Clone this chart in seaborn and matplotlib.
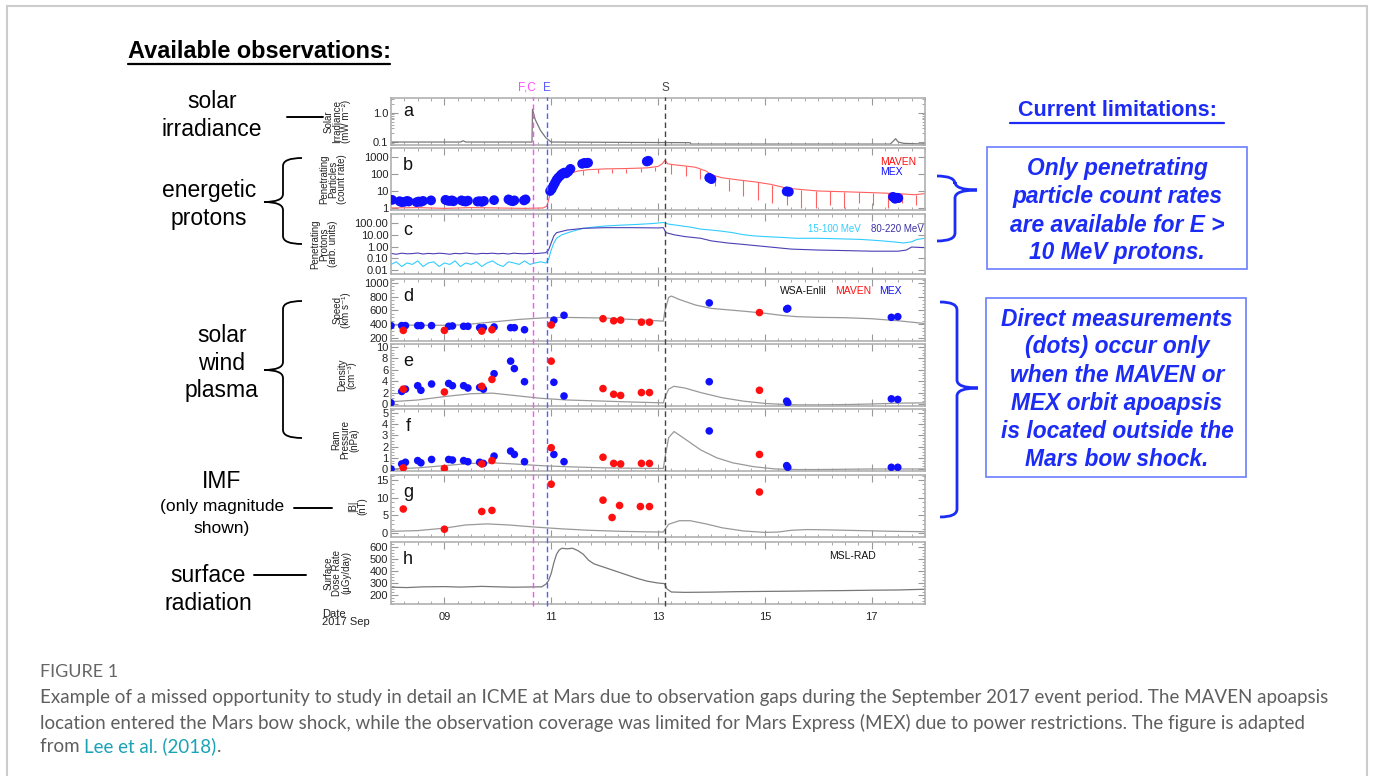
import matplotlib
matplotlib.use('Agg')
import matplotlib.pyplot as plt
import seaborn as sns
from matplotlib import transforms
from matplotlib.lines import Line2D
from matplotlib.patches import PathPatch, Rectangle
from matplotlib.path import Path
from matplotlib.text import Annotation
from matplotlib.ticker import MultipleLocator, AutoMinorLocator

# ---------------- data (time in days of September 2017) ----------------
event_labels = ['F,C', 'E', 'S']
event_times = [10.65, 10.92, 13.13]
event_colors = ['#ff4dff', '#5a5aff', '#444444']

# a: solar irradiance
irr_t = [8.0, 9.3, 9.35, 9.4, 10.64, 10.65, 10.7, 10.8, 10.9, 11.0, 13.6, 13.62, 17.35, 17.45, 17.5, 17.6, 18.0]
irr_v = [0.10, 0.10, 0.11, 0.10, 0.10, 1.35, 0.6, 0.25, 0.14, 0.10, 0.095, 0.085, 0.085, 0.13, 0.10, 0.09, 0.085]

# b: penetrating particles (MAVEN line, MEX dots)
maven_b_t = [8.0, 8.5, 9.0, 9.5, 10.0, 10.5, 10.85, 10.92, 10.97, 11.02, 11.1, 11.2, 11.3, 11.4, 11.5, 11.7,
             12.0, 12.4, 12.8, 13.0, 13.08, 13.13, 13.18, 13.3, 13.5, 13.7, 13.9, 14.0, 14.2, 14.5, 14.8,
             15.1, 15.4, 15.7, 16.0, 16.5, 17.0, 17.5, 17.8, 18.0]
maven_b_v = [1.0, 1.05, 0.95, 1.05, 1.0, 0.95, 1.0, 1.3, 5, 20, 40, 60, 80, 120, 150, 180,
             200, 210, 230, 280, 400, 650, 400, 350, 300, 250, 150, 90, 60, 45, 35,
             25, 15, 12, 10, 9, 8, 7, 6, 7]
dip_t = [11.6, 11.87, 12.14, 12.41, 12.68, 12.95, 13.25, 13.52, 13.79, 14.06, 14.33, 14.6, 14.87, 15.14,
         15.41, 15.68, 15.95, 16.22, 16.49, 16.76, 17.03, 17.3, 17.57, 17.84]
dip_top = [165, 190, 203, 210, 220, 260, 370, 295, 200, 80, 52, 42, 33, 24,
           15, 12, 10, 10, 9, 9, 8, 7.5, 7, 6]
dip_low = [90, 110, 120, 120, 130, 150, 100, 80, 50, 20, 10, 5, 3, 2,
           1.5, 1, 1, 1.5, 1, 2, 1.5, 1, 2, 1.5]
mex_b_t = [8.02, 8.16, 8.2, 8.25, 8.3, 8.33, 8.48, 8.52, 8.56, 8.6, 8.75, 9.02, 9.06, 9.1, 9.14, 9.17,
           9.32, 9.36, 9.4, 9.44, 9.62, 9.66, 9.7, 9.74, 9.93, 10.2, 10.24, 10.28, 10.31, 10.49, 10.52,
           10.98, 11.01, 11.04, 11.07, 11.1, 11.13, 11.17, 11.2, 11.24, 11.28, 11.32, 11.36,
           11.58, 11.62, 11.66, 11.69, 12.79, 12.82, 13.96, 14.0, 15.41, 15.45, 17.4, 17.44, 17.48, 17.5]
mex_b_v = [3.0, 2.5, 2.2, 2.3, 2.6, 2.4, 2.2, 2.4, 2.3, 2.6, 2.8, 3.0, 2.7, 2.6, 2.8, 2.5,
           2.8, 2.5, 2.4, 2.7, 2.4, 2.5, 2.3, 2.6, 2.9, 3.2, 2.7, 2.5, 2.8, 2.8, 3.2,
           10, 13, 20, 30, 45, 60, 80, 100, 120, 110, 140, 200,
           400, 450, 430, 460, 550, 600, 60, 50, 9.5, 9, 4.5, 3.5, 4, 3.8]

# c: penetrating protons, two energy channels
c_t = [8.0, 8.1, 8.2, 8.3, 8.4, 8.5, 8.6, 8.7, 8.8, 8.9, 9.0, 9.1, 9.2, 9.3, 9.4, 9.5, 9.6, 9.7, 9.8, 9.9,
       10.0, 10.1, 10.2, 10.3, 10.4, 10.5, 10.6, 10.7, 10.8, 10.9]
low_pre = [.03, .05, .02, .04, .03, .06, .02, .04, .05, .02, .04, .03, .06, .02, .04, .03, .05, .02, .04, .06,
           .03, .02, .05, .04, .03, .06, .03, .04, .05, .04]
high_pre = [.26, .22, .27, .24, .25, .28, .23, .26, .24, .27, .25, .22, .26, .24, .28, .25, .23, .26, .25, .27,
            .24, .26, .23, .27, .25, .24, .26, .25, .27, .3]
low_t = [10.95, 11.0, 11.05, 11.1, 11.2, 11.4, 11.6, 11.8, 12.0, 12.3, 12.6, 12.9, 13.1, 13.2, 13.4, 13.6,
         13.8, 14.0, 14.2, 14.4, 14.6, 14.8, 15.0, 15.3, 15.6, 16.0, 16.4, 16.8, 17.0, 17.2, 17.4, 17.6,
         17.75, 17.85, 18.0]
low_v = [0.08, 0.5, 2, 5, 10, 20, 35, 45, 55, 65, 75, 90, 110, 80, 60, 45,
         30, 25, 20, 15, 10, 8, 7, 6, 5, 5, 4.5, 4, 3.5, 3, 2.5, 2,
         2.5, 4, 5]
high_t = [10.95, 11.0, 11.05, 11.1, 11.3, 11.6, 12.0, 12.5, 13.0, 13.1, 13.15, 13.3, 13.5, 13.8, 14.0, 14.3,
          14.6, 15.0, 15.5, 16.0, 16.5, 17.0, 17.5, 17.65, 17.75, 18.0]
high_v = [0.5, 2, 8, 15, 25, 35, 40, 40, 38, 40, 15, 10, 7, 5, 3, 2,
          1.5, 1, 0.6, 0.5, 0.45, 0.4, 0.4, 0.5, 0.9, 0.8]

# d-g: WSA-Enlil model lines
enlil_v_t = [8.0, 8.5, 9.0, 9.3, 9.6, 10.0, 10.4, 10.8, 11.2, 11.6, 12.0, 12.5, 13.0, 13.1, 13.13, 13.2, 13.25,
             13.4, 13.7, 14.0, 14.3, 14.6, 15.0, 15.3, 15.6, 16.0, 16.5, 17.0, 17.5, 18.0]
enlil_v = [390, 385, 385, 390, 410, 440, 470, 490, 500, 495, 490, 470, 450, 445, 600, 790, 810,
           760, 680, 630, 610, 590, 560, 530, 510, 500, 495, 480, 450, 410]
enlil_n_t = [8.0, 8.5, 9.0, 9.5, 9.9, 10.3, 10.8, 11.3, 12.0, 12.5, 13.1, 13.13, 13.2, 13.3, 13.5, 13.8,
             14.2, 14.6, 15.0, 15.3, 15.6, 16.0, 16.5, 17.0, 17.5, 18.0]
enlil_n = [0.4, 0.7, 1.3, 1.8, 1.9, 1.5, 1.0, 0.7, 0.5, 0.35, 0.2, 1.2, 2.6, 3.1, 2.8, 2.0,
           1.1, 0.5, 0.1, -0.05, -0.15, -0.15, -0.1, 0.0, 0.15, 0.2]
enlil_p_t = [8.0, 8.5, 9.0, 9.5, 9.9, 10.3, 10.8, 11.3, 12.0, 12.5, 13.1, 13.13, 13.2, 13.3, 13.5, 13.8,
             14.1, 14.4, 14.8, 15.2, 15.6, 16.0, 17.0, 18.0]
enlil_p = [0.0, 0.1, 0.3, 0.5, 0.55, 0.45, 0.3, 0.2, 0.1, 0.07, 0.05, 1.0, 2.8, 3.35, 2.7, 1.7,
           1.0, 0.55, 0.2, 0.0, -0.05, -0.05, 0.0, 0.0]
enlil_b_t = [8.0, 8.5, 9.0, 9.4, 9.8, 10.2, 10.7, 11.2, 11.7, 12.3, 12.8, 13.1, 13.13, 13.2, 13.4, 13.6,
             13.9, 14.2, 14.6, 15.0, 15.25, 15.5, 15.8, 16.2, 16.8, 17.4, 18.0]
enlil_b = [0.5, 0.7, 1.4, 2.3, 2.6, 2.3, 1.7, 1.2, 0.8, 0.5, 0.35, 0.3, 1.0, 2.5, 3.5, 3.5,
           2.6, 1.5, 0.6, 0.2, 0.3, 0.8, 1.0, 0.9, 0.7, 0.5, 0.4]

# d-g: spacecraft measurements
mex_t = [8.0, 8.2, 8.27, 8.5, 8.56, 8.76, 9.08, 9.15, 9.36, 9.44, 9.66, 9.73, 9.93, 10.24, 10.31, 10.5,
         11.05, 11.24, 13.96, 15.41, 15.43, 17.37, 17.49]
mex_speed = [380, 380, 380, 380, 380, 380, 370, 375, 370, 370, 350, 350, 360, 350, 350, 320,
             460, 530, 710, 620, 630, 500, 510]
mex_dens = [0.2, 2.2, 2.6, 3.2, 2.4, 3.5, 3.6, 3.2, 3.2, 2.8, 2.9, 2.6, 5.3, 7.5, 6.2, 3.9,
            3.8, 1.4, 3.9, 0.5, 0.2, 0.9, 0.8]
mex_pram = [0.0, 0.45, 0.6, 0.75, 0.55, 0.85, 0.85, 0.8, 0.75, 0.65, 0.6, 0.5, 1.15, 1.6, 1.3, 0.65,
            1.3, 0.65, 3.4, 0.3, 0.15, 0.15, 0.15]
maven_t = [8.23, 9.0, 9.7, 9.89, 11.0, 11.97, 12.17, 12.3, 12.69, 12.84, 14.9]
maven_speed = [310, 310, 300, 320, 390, 480, 450, 460, 430, 430, 570]
maven_dens = [2.6, 2.1, 3.1, 4.3, 7.5, 2.7, 1.7, 1.5, 2.0, 2.0, 2.4]
maven_pram = [0.1, 0.05, 0.45, 0.75, 1.9, 1.05, 0.5, 0.45, 0.5, 0.5, 1.3]
maven_bt = [8.23, 9.0, 9.7, 9.89, 11.0, 11.97, 12.14, 12.28, 12.67, 12.84, 14.9]
maven_b = [6.8, 1.1, 6.1, 6.4, 13.8, 9.3, 4.4, 7.8, 7.5, 7.5, 11.6]

# h: MSL-RAD surface dose rate
dose_t = [8.0, 8.3, 8.6, 9.0, 9.3, 9.7, 10.0, 10.3, 10.6, 10.82, 10.9, 10.95, 11.0, 11.05, 11.1, 11.15, 11.2,
          11.3, 11.4, 11.5, 11.6, 11.7, 11.8, 12.0, 12.2, 12.4, 12.6, 12.8, 13.0, 13.12, 13.17, 13.25,
          13.5, 14.0, 14.5, 15.0, 15.5, 16.0, 16.5, 17.0, 17.5, 18.0]
dose_v = [265, 262, 268, 270, 266, 272, 268, 265, 267, 268, 290, 320, 380, 470, 540, 575, 590,
          585, 590, 570, 540, 490, 460, 430, 400, 370, 340, 315, 300, 295, 250, 225,
          222, 224, 228, 230, 232, 235, 237, 240, 242, 248]

x_ticks = [9, 11, 13, 15, 17]
x_tick_labels = ['09', '11', '13', '15', '17']

# ---------------- figure ----------------
sns.set_style('ticks')
plt.rcParams['font.family'] = ['Liberation Sans', 'DejaVu Sans']

W, H = 1373, 776
fig = plt.figure(figsize=(W / 100, H / 100), dpi=100)


def fx(x):
    return x / W


def fy(y):
    return 1 - y / H


# panel vertical extents in pixels (top, bottom)
panel_px = [(98, 145), (148, 210), (214, 274), (279, 341), (344, 406), (409, 471), (475, 537), (542, 604)]
left_px, right_px = 391, 925
axes = []
for top, bot in panel_px:
    axes.append(fig.add_axes([fx(left_px), fy(bot), (right_px - left_px) / W, (bot - top) / H]))
ax_a, ax_b, ax_c, ax_d, ax_e, ax_f, ax_g, ax_h = axes

RED, BLUE, GRAY = '#ff1010', '#1010ff', '#999999'

# a
sns.lineplot(x=irr_t, y=irr_v, ax=ax_a, color='#777777', lw=0.9, estimator=None)
ax_a.set_yscale('log')
ax_a.set_ylim(0.079, 3.3)
ax_a.set_yticks([0.1, 1.0])
ax_a.set_yticklabels(['0.1', '1.0'])

# b
sns.lineplot(x=maven_b_t, y=maven_b_v, ax=ax_b, color='#ff6060', lw=0.8, estimator=None)
ax_b.vlines(dip_t, dip_low, dip_top, color='#ff6060', lw=0.8)
sns.scatterplot(x=mex_b_t, y=mex_b_v, ax=ax_b, color=BLUE, s=50, edgecolor='none', zorder=5)
ax_b.set_yscale('log')
ax_b.set_ylim(0.76, 3400)
ax_b.set_yticks([1, 10, 100, 1000])
ax_b.set_yticklabels(['1', '10', '100', '1000'])
ax_b.text(0.916, 0.78, 'MAVEN', color=RED, fontsize=7.5, transform=ax_b.transAxes, va='center')
ax_b.text(0.916, 0.61, 'MEX', color=BLUE, fontsize=7.5, transform=ax_b.transAxes, va='center')

# c
sns.lineplot(x=c_t + low_t, y=low_pre + low_v, ax=ax_c, color='#33ccff', lw=0.8, estimator=None)
sns.lineplot(x=c_t + high_t, y=high_pre + high_v, ax=ax_c, color='#4a3fb5', lw=0.8, estimator=None)
ax_c.set_yscale('log')
ax_c.set_ylim(0.0046, 580)
ax_c.set_yticks([0.01, 0.1, 1, 10, 100])
ax_c.set_yticklabels(['0.01', '0.10', '1.00', '10.00', '100.00'])
ax_c.text(0.781, 0.75, '15-100 MeV', color='#33ccff', fontsize=7, transform=ax_c.transAxes, va='center')
ax_c.text(0.899, 0.75, '80-220 MeV', color='#3a2fa5', fontsize=7, transform=ax_c.transAxes, va='center')

# d-g
panels = [(ax_d, enlil_v_t, enlil_v, maven_t, maven_speed, mex_speed),
          (ax_e, enlil_n_t, enlil_n, maven_t, maven_dens, mex_dens),
          (ax_f, enlil_p_t, enlil_p, maven_t, maven_pram, mex_pram)]
for ax, lt, lv, mt, mv, xv in panels:
    sns.lineplot(x=lt, y=lv, ax=ax, color=GRAY, lw=0.9, estimator=None)
    sns.scatterplot(x=mex_t, y=xv, ax=ax, color=BLUE, s=30, edgecolor='none', zorder=5)
    sns.scatterplot(x=mt, y=mv, ax=ax, color=RED, s=30, edgecolor='none', zorder=5)
sns.lineplot(x=enlil_b_t, y=enlil_b, ax=ax_g, color=GRAY, lw=0.9, estimator=None)
sns.scatterplot(x=maven_bt, y=maven_b, ax=ax_g, color=RED, s=30, edgecolor='none', zorder=5)

ax_d.set_ylim(156, 1058)
ax_d.set_yticks([200, 400, 600, 800, 1000])
ax_e.set_ylim(-0.35, 10.5)
ax_e.set_yticks([0, 2, 4, 6, 8, 10])
ax_f.set_ylim(-0.18, 5.36)
ax_f.set_yticks([0, 1, 2, 3, 4, 5])
ax_g.set_ylim(-1.1, 16.4)
ax_g.set_yticks([0, 5, 10, 15])
ax_d.text(0.728, 0.8, 'WSA-Enlil', color='#111111', fontsize=7.5, transform=ax_d.transAxes, va='center')
ax_d.text(0.831, 0.8, 'MAVEN', color=RED, fontsize=7.5, transform=ax_d.transAxes, va='center')
ax_d.text(0.914, 0.8, 'MEX', color=BLUE, fontsize=7.5, transform=ax_d.transAxes, va='center')

# h
sns.lineplot(x=dose_t, y=dose_v, ax=ax_h, color='#777777', lw=0.9, estimator=None)
ax_h.set_ylim(125, 642)
ax_h.set_yticks([200, 300, 400, 500, 600])
ax_h.text(0.82, 0.78, 'MSL-RAD', color='#111111', fontsize=7.5, transform=ax_h.transAxes, va='center')

ylabels = ['Solar\nIrradiance\n(mW m⁻²)', 'Penetrating\nParticles\n(count rate)',
           'Penetrating\nProtons\n(arb. units)', 'Speed\n(km s⁻¹)', 'Density\n(cm⁻³)',
           'Ram\nPressure\n(nPa)', '|B|\n(nT)', 'Surface\nDose Rate\n(µGy/day)']
label_x = [-0.075, -0.082, -0.1, -0.075, -0.065, -0.06, -0.045, -0.075]
letters = 'abcdefgh'
for i, ax in enumerate(axes):
    ax.set_xlim(8, 18)
    ax.set_xticks(x_ticks)
    ax.xaxis.set_minor_locator(MultipleLocator(0.25))
    if ax.get_yscale() == 'linear':
        ax.yaxis.set_minor_locator(AutoMinorLocator(4))
    ax.tick_params(which='both', direction='in', top=True, right=True, color='#999999',
                   labelsize=8, pad=2, labelcolor='#222222')
    ax.tick_params(which='major', length=5, width=0.8)
    ax.tick_params(which='minor', length=2.5, width=0.6)
    if i < 7:
        ax.set_xticklabels([])
    else:
        ax.set_xticklabels(x_tick_labels)
        ax.tick_params(axis='x', pad=6)
    for sp in ax.spines.values():
        sp.set_color('#b0b0b0')
        sp.set_linewidth(1.2)
    ax.set_xlabel('')
    ax.set_ylabel(ylabels[i], fontsize=7, linespacing=0.85, color='#222222')
    ax.yaxis.set_label_coords(label_x[i], 0.5)
    ax.text(0.032, 0.72, letters[i], transform=ax.transAxes, fontsize=13, ha='center', va='center',
            color='#111111')

# event lines across all panels
blend = transforms.blended_transform_factory(ax_h.transData, fig.transFigure)
label_shift = [0.06, 0.0, 0.0]
label_ha = ['right', 'center', 'center']
for lab, t, col, dx, ha in zip(event_labels, event_times, event_colors, label_shift, label_ha):
    fig.add_artist(Line2D([t, t], [fy(606), fy(97)], transform=blend, color=col, lw=1.0,
                          dashes=(4, 2.5), zorder=10))
    fig.text(t + dx, fy(88), lab, transform=blend, color=col, fontsize=8.5, ha=ha, va='center')

fig.text(fx(322), fy(618), 'Date\n2017 Sep', fontsize=8, ha='left', va='center', linespacing=0.85,
         color='#222222')

# ---------------- annotations ----------------
fig.text(fx(259), fy(52), 'Available observations:', fontsize=16.9, fontweight='bold', ha='center',
         va='center', color='black')
fig.add_artist(Line2D([fx(128), fx(390)], [fy(64), fy(64)], color='black', lw=1.6))

left_labels = [('solar', 212, 102, 16.5), ('irradiance', 212, 129, 16.5),
               ('energetic', 209, 190, 16.5), ('protons', 209, 218, 16.5),
               ('solar', 222, 335, 16.5), ('wind', 222, 363, 16.5), ('plasma', 222, 391, 16.5),
               ('IMF', 222, 482, 16.5), ('(only magnitude', 222, 507, 12.5), ('shown)', 222, 529, 12.5),
               ('surface', 208, 575, 16.5), ('radiation', 208, 603, 16.5)]
for txt, x, y, fs in left_labels:
    fig.text(fx(x), fy(y), txt, fontsize=fs, ha='center', va='center', color='black')

for x0, x1, y in [(287, 323, 117), (294, 332, 508), (254, 306, 575)]:
    fig.add_artist(Line2D([fx(x0), fx(x1)], [fy(y), fy(y)], color='black', lw=1.4))


def brace(x_arm, x_spine, x_tip, y_top, y_tip, y_bot, color, lw, r=8):
    pts = [(x_arm, y_top), (x_spine, y_top), (x_spine, y_top + r), (x_spine, y_tip - r),
           (x_spine, y_tip), (x_tip, y_tip), (x_spine, y_tip), (x_spine, y_tip + r),
           (x_spine, y_bot - r), (x_spine, y_bot), (x_arm, y_bot)]
    codes = [Path.MOVETO, Path.CURVE3, Path.CURVE3, Path.LINETO, Path.CURVE3, Path.CURVE3,
             Path.CURVE3, Path.CURVE3, Path.LINETO, Path.CURVE3, Path.CURVE3]
    path = Path([(fx(x), fy(y)) for x, y in pts], codes)
    fig.add_artist(PathPatch(path, transform=fig.transFigure, fill=False, edgecolor=color, lw=lw))


brace(302, 283, 264, 158, 202, 244, 'black', 1.3)
brace(302, 283, 264, 301, 370, 438, 'black', 1.3)
BLUE_TXT = '#1c2cf5'
brace(937, 955, 977, 176, 190, 241, BLUE_TXT, 2.0)
brace(940, 957, 978, 302, 388, 517, BLUE_TXT, 2.0)

fig.text(fx(1117), fy(111), 'Current limitations:', fontsize=15.5, fontweight='bold', ha='center',
         va='center', color=BLUE_TXT)
fig.add_artist(Line2D([fx(1010), fx(1224)], [fy(123), fy(123)], color=BLUE_TXT, lw=1.6))

for (x0, y0, x1, y1) in [(987, 147, 1247, 269), (986, 298, 1246, 477)]:
    fig.add_artist(Rectangle((fx(x0), fy(y1)), fx(x1) - fx(x0), fy(y0) - fy(y1), transform=fig.transFigure,
                             fill=False, edgecolor='#6a7dff', lw=1.2))
box1 = ['Only penetrating', 'particle count rates', 'are available for E >', '10 MeV protons.']
box2 = ['Direct measurements', '(dots) occur only', 'when the MAVEN or', 'MEX orbit apoapsis',
        'is located outside the', 'Mars bow shock.']
for lines, y0 in [(box1, 169), (box2, 319)]:
    for k, line in enumerate(lines):
        fig.text(fx(1117), fy(y0 + 28 * k), line, fontsize=16.4, fontweight='bold', fontstyle='italic',
                 ha='center', va='center', color=BLUE_TXT)

# outer frame
fig.add_artist(Rectangle((fx(7), fy(800)), fx(1367) - fx(7), fy(6) - fy(800), transform=fig.transFigure,
                         fill=False, edgecolor='#cccccc', lw=1.5))

# caption
CAP = ['Lato', 'DejaVu Sans']
CAP_FS = 13.5
fig.text(fx(40), fy(672), 'FIGURE 1', fontsize=13, color='#666666', family=CAP, va='center')
cap_lines = ['Example of a missed opportunity to study in detail an ICME at Mars due to observation gaps during '
             'the September 2017 event period. The MAVEN apoapsis',
             'location entered the Mars bow shock, while the observation coverage was limited for Mars Express '
             '(MEX) due to power restrictions. The figure is adapted']
for k, line in enumerate(cap_lines):
    fig.text(fx(40), fy(698 + 24.5 * k), line, fontsize=CAP_FS, color='#5f5f5f', family=CAP, va='center')
t1 = fig.text(fx(40), fy(747), 'from ', fontsize=CAP_FS, color='#5f5f5f', family=CAP, va='center')
ref_txt = Annotation('Lee et al. (2018)', xy=(1, 0), xycoords=t1, va='bottom', ha='left',
                     fontsize=CAP_FS, color='#1ba3b5', family=CAP)
fig.add_artist(ref_txt)
fig.add_artist(Annotation('.', xy=(1, 0), xycoords=ref_txt, va='bottom', ha='left',
                          fontsize=CAP_FS, color='#5f5f5f', family=CAP))

fig.savefig('out.png', dpi=100)
